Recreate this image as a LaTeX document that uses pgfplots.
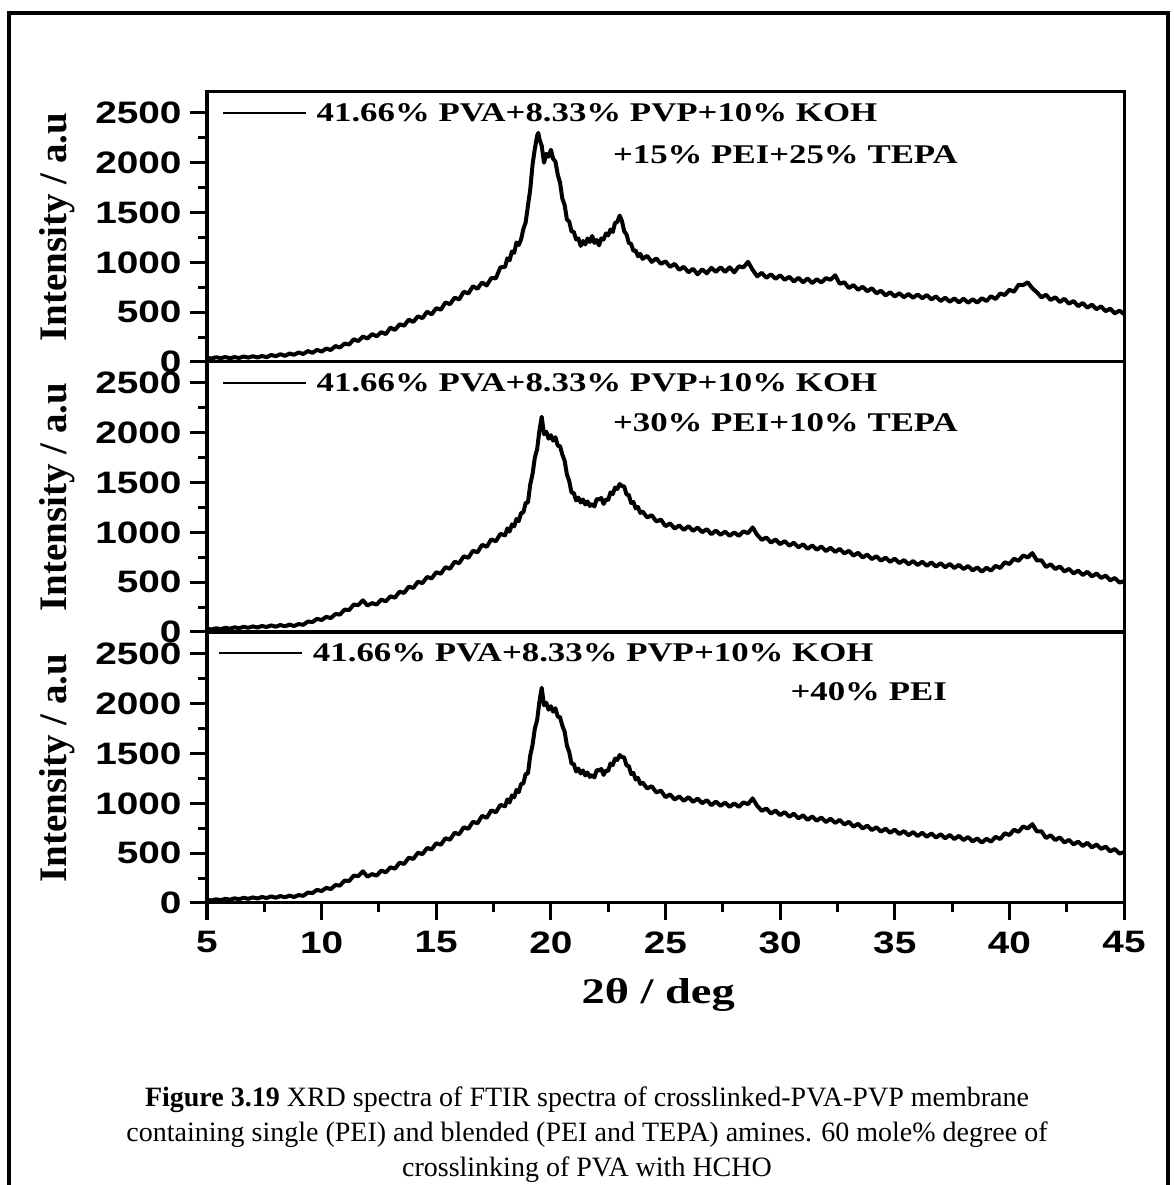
\documentclass[border=0pt]{standalone}
\usepackage{pgfplots}
\pgfplotsset{compat=1.18}
\usepackage{pgfplotstable}
\usepackage{fontspec}
\setmainfont{Liberation Serif}
\newfontfamily\tickfont[FakeStretch=1.25]{Liberation Sans}
\newfontfamily\legfont[FakeStretch=1.29]{Liberation Serif}
\newcommand\tickf{\tickfont\bfseries\fontsize{31bp}{31bp}\selectfont}
\newcommand\legf{\legfont\bfseries\fontsize{27bp}{27bp}\selectfont}

\pgfplotstableread{
x y
5.0 42
5.2 35
5.4 48
5.6 38
5.8 50
6.0 37
6.2 49
6.4 40
6.6 55
6.8 44
7.0 58
7.2 45
7.4 60
7.6 48
7.8 70
8.0 58
8.2 78
8.4 62
8.6 85
8.8 72
9.0 96
9.2 80
9.4 110
9.6 92
9.8 122
10.0 104
10.2 135
10.4 120
10.6 160
10.8 145
11.0 185
11.2 175
11.4 228
11.6 210
11.8 255
12.0 236
12.2 280
12.4 258
12.6 300
12.8 280
13.0 345
13.2 322
13.4 378
13.6 365
13.8 425
14.0 402
14.2 458
14.4 440
14.6 505
14.8 478
15.0 540
15.2 525
15.4 598
15.6 580
15.8 645
16.0 628
16.2 705
16.4 688
16.6 760
16.8 735
17.0 798
17.2 768
17.4 842
17.6 840
17.8 950
18.0 955
18.1 1040
18.2 1020
18.3 1110
18.4 1095
18.5 1200
18.6 1175
18.7 1230
18.8 1335
18.9 1400
19.0 1570
19.1 1730
19.2 1980
19.3 2140
19.4 2270
19.45 2300
19.5 2240
19.6 2170
19.7 2000
19.8 2090
19.9 2060
20.0 2130
20.1 2040
20.2 2010
20.3 1880
20.4 1800
20.5 1640
20.6 1575
20.7 1430
20.8 1410
20.9 1310
21.0 1305
21.1 1230
21.2 1240
21.3 1165
21.4 1215
21.5 1180
21.6 1240
21.7 1205
21.8 1265
21.9 1195
22.0 1225
22.1 1170
22.2 1240
22.3 1230
22.4 1290
22.5 1270
22.6 1330
22.7 1305
22.8 1395
22.9 1405
23.0 1470
23.1 1415
23.2 1310
23.3 1280
23.4 1195
23.5 1185
23.6 1115
23.7 1120
23.8 1060
23.9 1085
24.0 1035
24.2 1065
24.4 1005
24.6 1040
24.8 985
25.0 1010
25.2 955
25.4 985
25.6 925
25.8 955
26.0 900
26.2 935
26.4 880
26.6 930
26.8 890
27.0 945
27.2 905
27.4 950
27.6 905
27.8 950
28.0 900
28.2 960
28.4 950
28.6 1005
28.8 925
29.0 860
29.2 895
29.4 845
29.6 880
29.8 835
30.0 870
30.2 825
30.4 855
30.6 808
30.8 845
31.0 800
31.2 838
31.4 792
31.6 830
31.8 798
32.0 842
32.2 825
32.4 870
32.6 785
32.8 800
33.0 742
33.2 772
33.4 725
33.6 755
33.8 710
34.0 740
34.2 690
34.4 715
34.6 668
34.8 700
35.0 658
35.2 690
35.4 650
35.6 682
35.8 645
36.0 678
36.2 640
36.4 672
36.6 628
36.8 658
37.0 612
37.2 645
37.4 605
37.6 638
37.8 598
38.0 635
38.2 595
38.4 630
38.6 596
38.8 640
39.0 612
39.2 660
39.4 632
39.6 688
39.8 672
40.0 725
40.2 705
40.4 775
40.6 772
40.8 800
41.0 740
41.2 700
41.4 648
41.6 675
41.8 622
42.0 650
42.2 602
42.4 634
42.6 585
42.8 612
43.0 560
43.2 592
43.4 545
43.6 575
43.8 530
44.0 558
44.2 510
44.4 535
44.6 488
44.8 515
45.0 482
}\dataA

\pgfplotstableread{
x y
5.0 34
5.2 25
5.4 38
5.6 28
5.8 42
6.0 33
6.2 47
6.4 38
6.6 52
6.8 42
7.0 56
7.2 45
7.4 60
7.6 50
7.8 66
8.0 53
8.2 70
8.4 57
8.6 74
8.8 60
9.0 80
9.2 72
9.4 105
9.6 100
9.8 132
10.0 120
10.2 152
10.4 140
10.6 180
10.8 175
11.0 225
11.2 220
11.4 275
11.6 270
11.8 318
12.0 265
12.2 290
12.4 275
12.6 325
12.8 308
13.0 358
13.2 345
13.4 405
13.6 392
13.8 455
14.0 442
14.2 505
14.4 490
14.6 552
14.8 538
15.0 600
15.2 585
15.4 650
15.6 635
15.8 705
16.0 690
16.2 760
16.4 745
16.6 815
16.8 800
17.0 875
17.2 855
17.4 930
17.6 910
17.8 985
18.0 970
18.1 1040
18.2 1008
18.3 1080
18.4 1060
18.5 1135
18.6 1112
18.7 1195
18.8 1200
18.9 1295
19.0 1300
19.1 1480
19.2 1585
19.3 1750
19.4 1835
19.5 2020
19.6 2160
19.7 1985
19.8 2010
19.9 1940
20.0 1975
20.1 1920
20.2 1955
20.3 1870
20.4 1865
20.5 1780
20.6 1720
20.7 1580
20.8 1515
20.9 1400
21.0 1395
21.1 1320
21.2 1350
21.3 1300
21.4 1330
21.5 1280
21.6 1310
21.7 1265
21.8 1285
21.9 1260
22.0 1335
22.1 1330
22.2 1345
22.3 1285
22.4 1330
22.5 1325
22.6 1400
22.7 1385
22.8 1450
22.9 1435
23.0 1485
23.1 1465
23.2 1460
23.3 1380
23.4 1375
23.5 1295
23.6 1305
23.7 1240
23.8 1255
23.9 1195
24.0 1210
24.2 1150
24.4 1172
24.6 1110
24.8 1128
25.0 1062
25.2 1090
25.4 1038
25.6 1070
25.8 1025
26.0 1062
26.2 1015
26.4 1048
26.6 1002
26.8 1032
27.0 982
27.2 1018
27.4 975
27.6 1008
27.8 965
28.0 1000
28.2 965
28.4 1010
28.6 992
28.8 1050
29.0 975
29.2 925
29.4 948
29.6 898
29.8 928
30.0 882
30.2 912
30.4 866
30.6 896
30.8 850
31.0 880
31.2 835
31.4 868
31.6 826
31.8 858
32.0 812
32.2 846
32.4 804
32.6 834
32.8 788
33.0 815
33.2 766
33.4 795
33.6 748
33.8 776
34.0 732
34.2 760
34.4 716
34.6 746
34.8 704
35.0 736
35.2 692
35.4 722
35.6 680
35.8 712
36.0 672
36.2 705
36.4 665
36.6 698
36.8 657
37.0 690
37.2 650
37.4 683
37.6 642
37.8 674
38.0 632
38.2 662
38.4 618
38.6 648
38.8 605
39.0 645
39.2 616
39.4 664
39.6 642
39.8 700
40.0 682
40.2 735
40.4 714
40.6 768
40.8 748
41.0 792
41.2 718
41.4 720
41.6 652
41.8 680
42.0 632
42.2 658
42.4 608
42.6 633
42.8 588
43.0 616
43.2 572
43.4 604
43.6 558
43.8 587
44.0 543
44.2 566
44.4 518
44.6 542
44.8 496
45.0 510
}\dataB

\pgfplotsset{
  xrdpanel/.style={
    scale only axis, width=917bp, height=270bp,
    anchor=south west,
    xmin=5, xmax=45, ymin=0, ymax=2710,
    axis line style={line width=3bp},
    every tick/.style={line width=3bp, black},
    major tick length=17bp, minor tick length=9bp,
    tick align=outside,
    ytick={0,500,...,2500}, minor y tick num=1,
    ytick pos=left,
    scaled ticks=false,
    /pgf/number format/1000 sep={},
    /pgf/number format/assume math mode=true,
    tick label style={font=\tickf},
    yticklabel style={xshift=-5bp},
    xticklabel style={yshift=-8bp},
    ylabel={Intensity / a.u},
    every axis y label/.style={at={(rel axis cs:-0.163,0.5)}, rotate=90, anchor=center,
      font=\bfseries\fontsize{39bp}{39bp}\selectfont},
    legend style={draw=none, fill=none, inner sep=0pt, outer sep=0pt, font=\legf,
      legend cell align=left},
    legend image code/.code={\draw[#1, line width=2bp] (0bp,0bp) -- (83bp,0bp); \path (90bp,0bp);},
  },
  xrdline/.style={black, line width=4bp, line join=round, no markers},
}

\begin{document}
\begin{tikzpicture}
\useasboundingbox (0bp,0bp) rectangle (1174bp,1185bp);
\draw[line width=4bp] (9bp,0bp) -- (9bp,1172bp) -- (1168bp,1172bp) -- (1168bp,0bp);

% panel 1
\begin{axis}[xrdpanel, at={(207bp,823bp)}, xtick=\empty,
  legend style={at={(rel axis cs:0.016,0.922)}, anchor=west}]
\addplot[xrdline] table {\dataA};
\legend{41.66\% PVA+8.33\% PVP+10\% KOH}
\node[anchor=east, inner sep=0pt, font=\legf] at (rel axis cs:0.819,0.767) {+15\% PEI+25\% TEPA};
\end{axis}

% panel 2
\begin{axis}[xrdpanel, at={(207bp,553bp)}, xtick=\empty,
  legend style={at={(rel axis cs:0.016,0.922)}, anchor=west}]
\addplot[xrdline] table {\dataB};
\legend{41.66\% PVA+8.33\% PVP+10\% KOH}
\node[anchor=east, inner sep=0pt, font=\legf] at (rel axis cs:0.819,0.774) {+30\% PEI+10\% TEPA};
\end{axis}

% panel 3
\begin{axis}[xrdpanel, at={(207bp,282bp)},
  xtick={5,10,...,45}, minor x tick num=1, xtick pos=bottom,
  xlabel={2θ / deg},
  every axis x label/.style={at={(rel axis cs:0.492,-0.34)}, anchor=center,
    font=\legfont\bfseries\fontsize{36bp}{36bp}\selectfont},
  legend style={at={(rel axis cs:0.012,0.926)}, anchor=west}]
\addplot[xrdline] table {\dataB};
\legend{41.66\% PVA+8.33\% PVP+10\% KOH}
\node[anchor=east, inner sep=0pt, font=\legf] at (rel axis cs:0.807,0.781) {+40\% PEI};
\end{axis}

\node[align=center, font=\fontsize{28bp}{35bp}\selectfont] at (587bp,50bp)
  {\textbf{Figure 3.19} XRD spectra of FTIR spectra of crosslinked-PVA-PVP membrane\\
   containing single (PEI) and blended (PEI and TEPA) amines. 60 mole\% degree of\\
   crosslinking of PVA with HCHO};
\end{tikzpicture}
\end{document}
